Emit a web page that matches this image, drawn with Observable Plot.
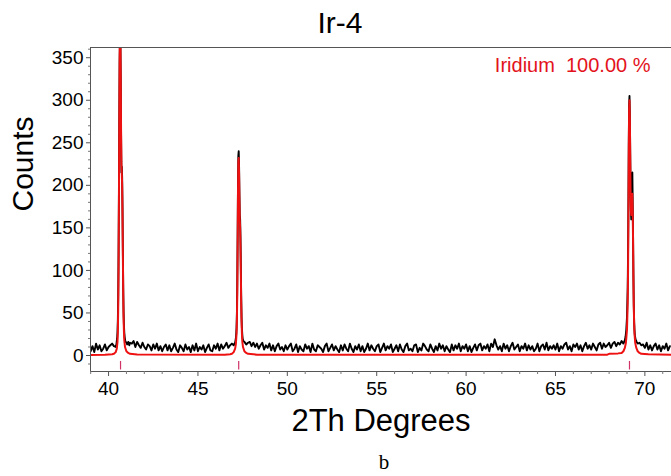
<!DOCTYPE html>
<html>
<head>
<meta charset="utf-8">
<script src="https://cdn.jsdelivr.net/npm/d3@7"></script>
<script src="https://cdn.jsdelivr.net/npm/@observablehq/plot@0.6"></script>
<style>
  html, body { margin: 0; padding: 0; background: #fff; }
  #chart { width: 671px; height: 476px; }
</style>
</head>
<body>
<div id="chart"></div>
<script>
// ---- Data ----
const title = "Ir-4";
const xLabel = "2Th Degrees";
const yLabel = "Counts";
const caption = "b";
const phaseLabel = "Iridium\u00a0\u00a0100.00 %";

const xMajorTicks = [40, 45, 50, 55, 60, 65, 70];
const yMajorTicks = [0, 50, 100, 150, 200, 250, 300, 350];

// reference (Bragg) peak positions of iridium
const refPeaks = [40.67, 47.28, 69.14];

// observed background counts, 0.1° steps, per segment (start angle, values)
const bgAStart = 39.0;
const bgA = [5, 11, 4, 14, 7, 12, 5, 8, 13, 6, 10, 12, 14, 11];
const bgBStart = 41.3;
const bgB = [14, 17, 10, 16, 12, 9, 15, 10, 7, 13, 11, 6, 13, 8, 14, 6, 11, 5, 10, 13,
  6, 12, 5, 9, 14, 7, 4, 12, 9, 5, 13, 7, 10, 4, 12, 6, 14, 5, 10, 7,
  12, 4, 9, 13, 6, 5, 12, 8, 14, 6, 13, 8, 11, 15, 9, 12, 14];
const bgCStart = 47.9;
const bgC = [16, 11, 15, 10, 14, 8, 12, 15, 7, 12,
  9, 14, 6, 12, 5, 11, 14, 7, 10, 5,
  12, 7, 11, 14, 5, 8, 13, 4, 11, 7,
  5, 13, 8, 11, 4, 14, 7, 5, 12, 10,
  8, 4, 11, 14, 5, 9, 13, 6, 11, 7,
  4, 12, 6, 13, 8, 5, 14, 8, 4, 11,
  7, 13, 5, 11, 4, 8, 14, 6, 12, 8,
  5, 11, 13, 4, 9, 14, 6, 11, 8, 13,
  4, 8, 12, 5, 13, 7, 4, 11, 14, 6,
  8, 5, 12, 13, 4, 9, 6, 14, 11, 7,
  5, 13, 8, 4, 11, 6, 14, 8, 12, 5,
  11, 7, 4, 13, 6, 12, 8, 14, 5, 11,
  8, 13, 5, 11, 4, 9, 13, 6, 12, 14,
  6, 11, 8, 13, 5, 14, 10, 19, 12, 7,
  11, 5, 14, 8, 12, 5, 11, 15, 7, 10,
  13, 5, 11, 8, 14, 6, 12, 7, 11, 5,
  8, 14, 5, 11, 13, 7, 15, 6, 11, 8,
  12, 7, 14, 5, 11, 8, 13, 15, 7, 11,
  5, 13, 10, 14, 7, 12, 5, 11, 15, 8,
  12, 7, 14, 10, 6, 13, 15, 8, 14, 10,
  12, 15, 9, 14, 16, 11, 15, 13, 17];
const bgDStart = 69.9;
const bgD = [13, 9, 15, 7, 12, 6, 11, 14, 7, 12, 5, 11, 8, 14, 6, 11];

// observed counts through the three peaks: [2θ, counts]
const obsPeak1 = [[40.40, 10], [40.42, 12], [40.44, 13], [40.46, 17], [40.48, 20], [40.50, 28],
  [40.52, 42], [40.54, 70], [40.56, 120], [40.58, 190], [40.60, 280], [40.62, 345],
  [40.64, 372], [40.66, 370], [40.68, 330], [40.70, 260], [40.72, 215], [40.74, 222],
  [40.76, 210], [40.78, 175], [40.80, 125], [40.82, 80], [40.84, 52], [40.86, 36],
  [40.88, 27], [40.90, 22], [40.92, 19], [40.94, 17], [40.96, 16], [41.00, 15],
  [41.04, 13], [41.10, 16], [41.16, 12], [41.20, 15]];
const obsPeak2 = [[47.00, 12], [47.04, 14], [47.08, 15], [47.12, 20], [47.14, 25], [47.16, 33],
  [47.18, 50], [47.20, 85], [47.22, 140], [47.24, 200], [47.26, 235], [47.28, 240],
  [47.30, 225], [47.32, 190], [47.34, 165], [47.36, 160], [47.38, 140], [47.40, 105],
  [47.42, 70], [47.44, 45], [47.46, 32], [47.48, 25], [47.50, 20], [47.54, 17],
  [47.60, 16], [47.70, 13], [47.80, 15]];
const obsPeak3 = [[68.80, 14], [68.84, 16], [68.88, 18], [68.92, 22], [68.96, 30], [69.00, 45],
  [69.04, 80], [69.06, 120], [69.08, 180], [69.10, 250], [69.12, 295], [69.14, 305],
  [69.16, 285], [69.18, 240], [69.20, 195], [69.22, 170], [69.24, 160], [69.26, 175],
  [69.28, 200], [69.30, 215], [69.32, 180], [69.34, 140], [69.36, 95], [69.38, 60],
  [69.40, 40], [69.42, 30], [69.44, 24], [69.48, 19], [69.54, 16], [69.60, 14],
  [69.70, 15], [69.80, 12]];

// calculated (fitted) profile: [2θ, counts]
const calcProfile = [[38.99, 0.5], [39.8, 0.8], [40.2, 1.5],
  [40.30, 2], [40.40, 4], [40.46, 8], [40.50, 16], [40.52, 28], [40.54, 55], [40.56, 105],
  [40.58, 180], [40.60, 275], [40.62, 350], [40.64, 385], [40.66, 380], [40.68, 330],
  [40.70, 265], [40.72, 225], [40.74, 215], [40.76, 200], [40.78, 165], [40.80, 118],
  [40.82, 75], [40.84, 45], [40.86, 28], [40.88, 18], [40.92, 10], [41.00, 5],
  [41.10, 3], [41.20, 2], [41.6, 1.2], [46.5, 1], [46.8, 1.5],
  [46.90, 2], [47.00, 4], [47.08, 8], [47.12, 13], [47.16, 26], [47.18, 42], [47.20, 75],
  [47.22, 130], [47.24, 190], [47.26, 228], [47.28, 232], [47.30, 215], [47.32, 185],
  [47.34, 160], [47.36, 150], [47.38, 128], [47.40, 95], [47.42, 62], [47.44, 40],
  [47.46, 26], [47.48, 17], [47.52, 10], [47.60, 5], [47.70, 3], [47.80, 2],
  [48.3, 1], [67.9, 1], [68.0, 2], [68.5, 2.5],
  [68.70, 3], [68.80, 5], [68.88, 9], [68.94, 15], [69.00, 30], [69.04, 62], [69.06, 100],
  [69.08, 165], [69.10, 240], [69.12, 290], [69.14, 300], [69.16, 280], [69.18, 235],
  [69.20, 195], [69.22, 170], [69.24, 165], [69.26, 175], [69.28, 188], [69.30, 190],
  [69.32, 170], [69.34, 135], [69.36, 90], [69.38, 58], [69.40, 38], [69.42, 26],
  [69.46, 15], [69.52, 9], [69.60, 5], [69.70, 3], [69.80, 2], [70.2, 1.5], [71.49, 1]];

// ---- Build tables ----
function seg(start, vals) {
  return vals.map((v, i) => ({x: start + i * 0.1, y: v}));
}
const observed = [
  ...seg(bgAStart, bgA), ...seg(bgBStart, bgB), ...seg(bgCStart, bgC), ...seg(bgDStart, bgD),
  ...[...obsPeak1, ...obsPeak2, ...obsPeak3].map(([x, y]) => ({x, y}))
].sort((a, b) => a.x - b.x);
const calculated = calcProfile.map(([x, y]) => ({x, y}));

const xMinorTicks = d3.range(39, 72, 1).filter(v => !xMajorTicks.includes(v));
const yMinorTicks = d3.range(-10, 361, 10).filter(v => !yMajorTicks.includes(v));

const font = "'Liberation Sans', Arial, sans-serif";

const chart = Plot.plot({
  width: 671,
  height: 476,
  marginLeft: 90,
  marginRight: 0,
  marginTop: 47,
  marginBottom: 105,
  style: {fontFamily: font, background: "#fff", color: "#000"},
  x: {domain: [38.99, 71.49]},
  y: {domain: [-18.8, 362]},
  marks: [
    Plot.line(observed, {x: "x", y: "y", stroke: "#000", strokeWidth: 1.9, clip: true}),
    Plot.line(calculated, {x: "x", y: "y", stroke: "#ee1111", strokeWidth: 2, clip: true}),
    Plot.ruleX(refPeaks, {y1: -7, y2: -17, stroke: "#d03366", strokeWidth: 1.2}),
    Plot.frame({stroke: "#555", strokeWidth: 1}),
    Plot.axisY({ticks: yMajorTicks, tickSize: 4, tickPadding: 3, fontSize: 19, label: null, stroke: "#555"}),
    Plot.axisY({ticks: yMinorTicks, tickSize: 2, text: null, label: null, stroke: "#777"}),
    Plot.axisX({ticks: xMajorTicks, tickSize: 5, tickPadding: 5, fontSize: 19, label: null, stroke: "#555"}),
    Plot.axisX({ticks: xMinorTicks, tickSize: 3, text: null, label: null, stroke: "#777"}),
    Plot.text([phaseLabel], {frameAnchor: "top-right", lineAnchor: "middle", dx: -21, dy: 18,
      textAnchor: "end", fill: "#e3121b", fontSize: 20}),
    Plot.text([yLabel], {frameAnchor: "left", lineAnchor: "middle", dx: -67, dy: 2, rotate: -90,
      fontSize: 30, fill: "#000"}),
    Plot.text([xLabel], {frameAnchor: "bottom", lineAnchor: "middle", dy: 50, fontSize: 31, fill: "#000"}),
    Plot.text([title], {frameAnchor: "top", lineAnchor: "middle", dx: -41, dy: -24, fontSize: 30, fill: "#000"}),
    Plot.text([caption], {frameAnchor: "bottom", lineAnchor: "middle", dx: 3, dy: 91, fontSize: 21,
      fontFamily: "'Liberation Serif', 'DejaVu Serif', serif", fill: "#000"})
  ]
});
document.getElementById("chart").appendChild(chart);
</script>
</body>
</html>
